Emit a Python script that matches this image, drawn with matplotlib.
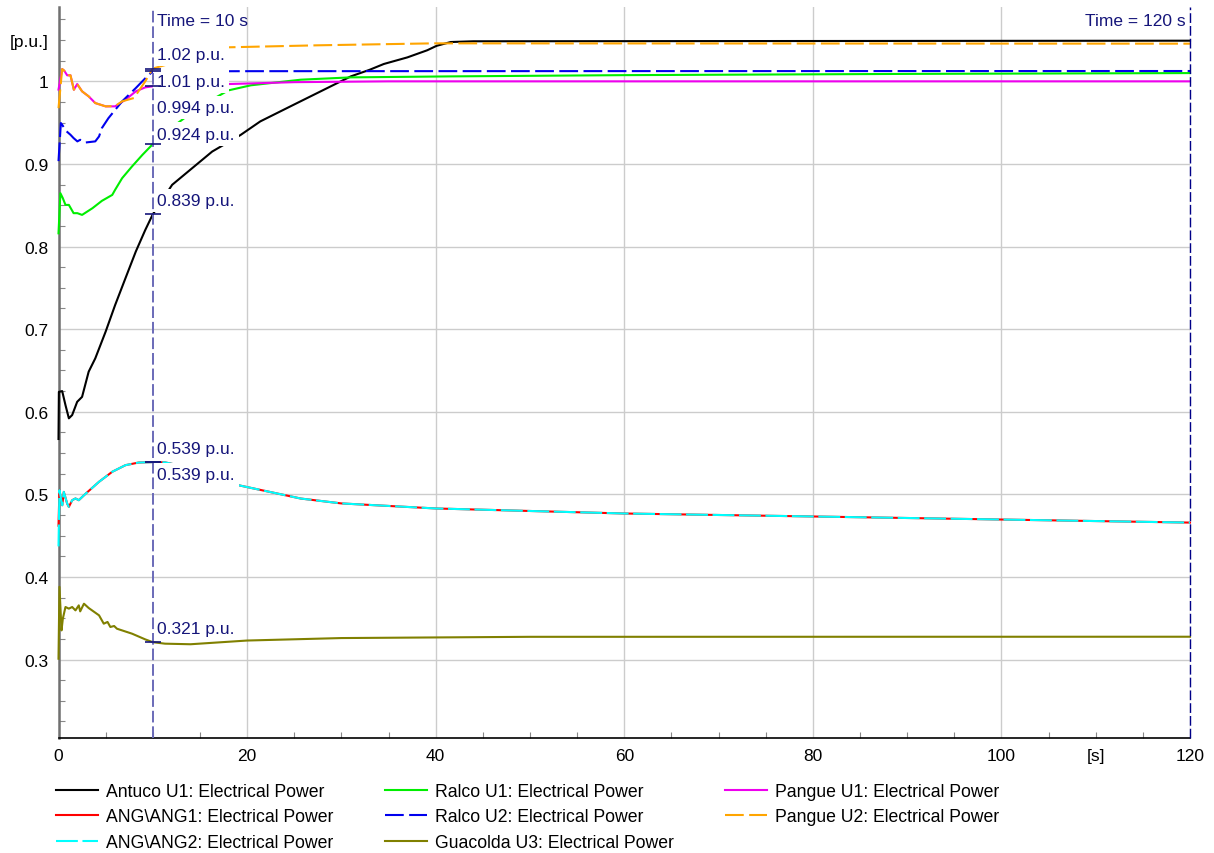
import matplotlib
matplotlib.use("Agg")
import matplotlib.pyplot as plt
from matplotlib.ticker import MultipleLocator, FuncFormatter

plt.rcParams["font.family"] = ["Liberation Sans", "DejaVu Sans"]
plt.rcParams["font.size"] = 12.5

# ---- simulation traces (time in s, electrical power in p.u.) ----
antuco_t = [0, 0.04, 0.39, 0.74, 1.1, 1.45, 1.98, 2.5, 3.2, 3.9, 5.0, 6.0, 7.1, 8.2, 9.2, 10,
            12.05, 16.3, 19.3, 21.4, 25, 28, 31, 33, 34.5, 37, 39.1, 40.1, 41.6, 44, 120]
antuco_p = [0.567, 0.624, 0.625, 0.608, 0.592, 0.596, 0.612, 0.618, 0.6485, 0.6646, 0.697, 0.729,
            0.7616, 0.794, 0.820, 0.839, 0.8747, 0.915, 0.935, 0.9515, 0.972, 0.989, 1.006, 1.014,
            1.021, 1.029, 1.0376, 1.043, 1.0476, 1.0485, 1.0492]

ralco1_t = [0, 0.2, 0.46, 0.74, 1.1, 1.6, 2.0, 2.5, 3.6, 4.6, 5.7, 6.0, 6.75, 7.8, 8.9, 10,
            12, 14, 16, 18, 20.4, 25.7, 31, 41.6, 60, 90, 120]
ralco1_p = [0.816, 0.8646, 0.8585, 0.8504, 0.8504, 0.8404, 0.8404, 0.8383, 0.8464, 0.8553, 0.8625,
            0.8686, 0.8828, 0.897, 0.911, 0.924, 0.944, 0.961, 0.976, 0.989, 0.9952, 1.002, 1.0048,
            1.006, 1.0075, 1.009, 1.010]

pangue1_t = [0, 0.39, 0.6, 0.92, 1.27, 1.63, 1.98, 2.5, 3.2, 3.9, 5.0, 6.0, 7.1, 8.2, 9.2, 10,
             18, 25, 35, 120]
pangue1_p = [0.990, 1.0149, 1.013, 1.0073, 1.0073, 0.9898, 0.9967, 0.9879, 0.9818, 0.9737, 0.9697,
             0.9697, 0.9777, 0.9879, 0.9927, 0.994, 0.9967, 0.999, 1.000, 1.000]

ang1_t = [0, 0.1, 0.4, 0.56, 0.92, 1.1, 1.45, 1.8, 2.15, 2.9, 4.3, 5.7, 7.1, 8.5, 10, 11.3, 12.8,
          19.1, 25.7, 30, 40, 60, 80, 100, 120]
ang1_p = [0.462, 0.505, 0.4868, 0.503, 0.4888, 0.4848, 0.4929, 0.495, 0.4929, 0.501, 0.5152, 0.5273,
          0.5353, 0.5385, 0.539, 0.5387, 0.535, 0.511, 0.4949, 0.489, 0.4829, 0.4768, 0.4732,
          0.4695, 0.4658]

ralco2_t = [0, 0.25, 0.39, 0.8, 1.27, 1.6, 2.0, 2.3, 2.9, 3.9, 4.3, 4.6, 5.3, 6.75, 8.2, 9.4, 10,
            20, 120]
ralco2_p = [0.9034, 0.9495, 0.9474, 0.940, 0.9353, 0.9313, 0.9273, 0.9292, 0.926, 0.9273, 0.9333,
            0.9434, 0.9555, 0.9758, 0.9919, 1.006, 1.012, 1.0123, 1.0125]

pangue2_t = [0, 0.39, 0.6, 0.92, 1.27, 1.63, 1.98, 2.5, 3.2, 3.9, 5.0, 6.0, 6.75, 8.0, 9.2, 10,
             18, 27.4, 39.8, 120]
pangue2_p = [0.9675, 1.0149, 1.013, 1.0073, 1.0073, 0.9898, 0.9967, 0.9879, 0.9818, 0.9737, 0.9697,
             0.970, 0.9758, 0.9798, 1.000, 1.0155, 1.0412, 1.0436, 1.046, 1.0456]

ang2_t = [0, 0.1, 0.4, 0.56, 0.92, 1.1, 1.45, 1.8, 2.15, 2.9, 4.3, 5.7, 7.1, 8.5, 10, 11.3, 12.8,
          19.1, 25.7, 30, 40, 60, 80, 100, 120]
ang2_p = [0.437, 0.505, 0.4868, 0.503, 0.4888, 0.4848, 0.4929, 0.495, 0.4929, 0.501, 0.5152, 0.5273,
          0.5353, 0.5385, 0.539, 0.5387, 0.535, 0.511, 0.4949, 0.489, 0.4829, 0.4768, 0.4732,
          0.4695, 0.4658]

guacolda_t = [0, 0.1, 0.32, 0.46, 0.74, 1.1, 1.45, 1.8, 2.15, 2.3, 2.7, 3.2, 4.3, 4.8, 5.2, 5.5,
              5.9, 6.2, 7.8, 9.2, 10, 11.3, 14, 20, 30, 50, 120]
guacolda_p = [0.301, 0.388, 0.3353, 0.3495, 0.3636, 0.3616, 0.3636, 0.3595, 0.3656, 0.3583, 0.3676,
              0.3624, 0.3535, 0.3434, 0.3455, 0.3394, 0.3406, 0.3373, 0.3313, 0.3244, 0.321, 0.3192,
              0.3185, 0.323, 0.326, 0.3275, 0.3276]

names = ["Antuco U1: Electrical Power", "Ralco U1: Electrical Power", "Pangue U1: Electrical Power",
         "ANG\\ANG1: Electrical Power", "Ralco U2: Electrical Power", "Pangue U2: Electrical Power",
         "ANG\\ANG2: Electrical Power", "Guacolda U3: Electrical Power"]

cursor_times = [10, 120]

fig = plt.figure(figsize=(12.14, 8.54), dpi=100)
ax = fig.add_axes([58.5 / 1214, 1 - 739 / 854, (1190 - 58.5) / 1214, (739 - 8) / 854])

series = [
    (antuco_t, antuco_p, dict(color="black")),
    (ralco1_t, ralco1_p, dict(color="#00ee00")),
    (pangue1_t, pangue1_p, dict(color="#ee00ee")),
    (ang1_t, ang1_p, dict(color="#ff0000")),
    (ralco2_t, ralco2_p, dict(color="#0000ee", dashes=(9, 2.6))),
    (pangue2_t, pangue2_p, dict(color="#ffa500", dashes=(9, 2.6))),
    (ang2_t, ang2_p, dict(color="#00ffff", dashes=(10.5, 2.2))),
    (guacolda_t, guacolda_p, dict(color="#808000")),
]

lines = []
for (t, p, style), name in zip(series, names):
    ln, = ax.plot(t, p, lw=1.5, label=name, zorder=3, clip_on=False, **style)
    lines.append(ln)

ax.set_xlim(0, 120)
ax.set_ylim(0.205, 1.09)

ax.xaxis.set_major_locator(MultipleLocator(20))
ax.xaxis.set_minor_locator(MultipleLocator(5))
ax.yaxis.set_minor_locator(MultipleLocator(0.025))
ax.set_yticks([0.3, 0.4, 0.5, 0.6, 0.7, 0.8, 0.9, 1.0])
ax.yaxis.set_major_formatter(FuncFormatter(lambda v, _: f"{v:g}"))
ax.grid(True, which="major", color="#cccccc", lw=1.0, zorder=0)
ax.set_axisbelow(True)
ax.tick_params(which="major", length=0, pad=7, labelsize=12.5)
ax.tick_params(which="minor", direction="in", length=4.5, width=0.8, color="#888888")

for side in ["top", "right"]:
    ax.spines[side].set_visible(False)
ax.spines["left"].set_color("#707070")
ax.spines["left"].set_linewidth(1.8)
ax.spines["bottom"].set_color("black")
ax.spines["bottom"].set_linewidth(1.2)

# unit labels in the tick-label rows
ax.annotate("[s]", xy=(110, 0), xycoords=ax.get_xaxis_transform(),
            xytext=(0, -7), textcoords="offset points", ha="center", va="top")
ax.annotate("[p.u.]", xy=(0, 1.0485), xycoords=ax.get_yaxis_transform(),
            xytext=(-7, 0), textcoords="offset points", ha="right", va="center")

# cursors, drawn over the readout boxes
navy = "#15157a"
ax.axvline(cursor_times[0], color="#6a6ab8", lw=1.4, dashes=(6, 2), zorder=7)
ax.axvline(cursor_times[1], color="#000088", lw=1.0, dashes=(7, 2.2), zorder=7, clip_on=False)
ax.text(cursor_times[0] + 0.45, 0.981, f"Time = {cursor_times[0]} s", transform=ax.get_xaxis_transform(),
        ha="left", va="center", color=navy, zorder=6)
ax.text(cursor_times[1] - 0.45, 0.981, f"Time = {cursor_times[1]} s", transform=ax.get_xaxis_transform(),
        ha="right", va="center", color=navy, zorder=6)

# value readouts at the 10 s cursor, stacked so the boxes do not overlap
t0 = cursor_times[0]
readings = []
for t, p, _ in series:
    readings.append(p[t.index(t0)])
order = sorted(range(len(readings)), key=lambda i: -readings[i])
prev = None
for i in order:
    v = readings[i]
    y = v + 0.0166
    if prev is not None:
        y = min(y, prev - 0.032)
    prev = y
    ax.hlines(v, t0 - 0.85, t0 + 0.85, color=navy, lw=1.2, zorder=8)
    ax.text(t0 + 0.45, y, f"{v:.3g} p.u.", ha="left", va="center", color=navy,
            zorder=6, bbox=dict(facecolor="white", edgecolor="none", pad=3.0))

# legend below the plot, 3 columns filled column by column
leg_order = [0, 3, 6, 1, 4, 7, 2, 5]
fig.legend([lines[i] for i in leg_order], [names[i] for i in leg_order],
           loc="upper left", bbox_to_anchor=(56 / 1214, 1 - 784 / 854), ncol=3, frameon=False,
           fontsize=12.7, handlelength=2.4, handletextpad=0.45, columnspacing=2.9,
           labelspacing=0.48, borderpad=0, borderaxespad=0)

fig.savefig("out.png", dpi=100)
